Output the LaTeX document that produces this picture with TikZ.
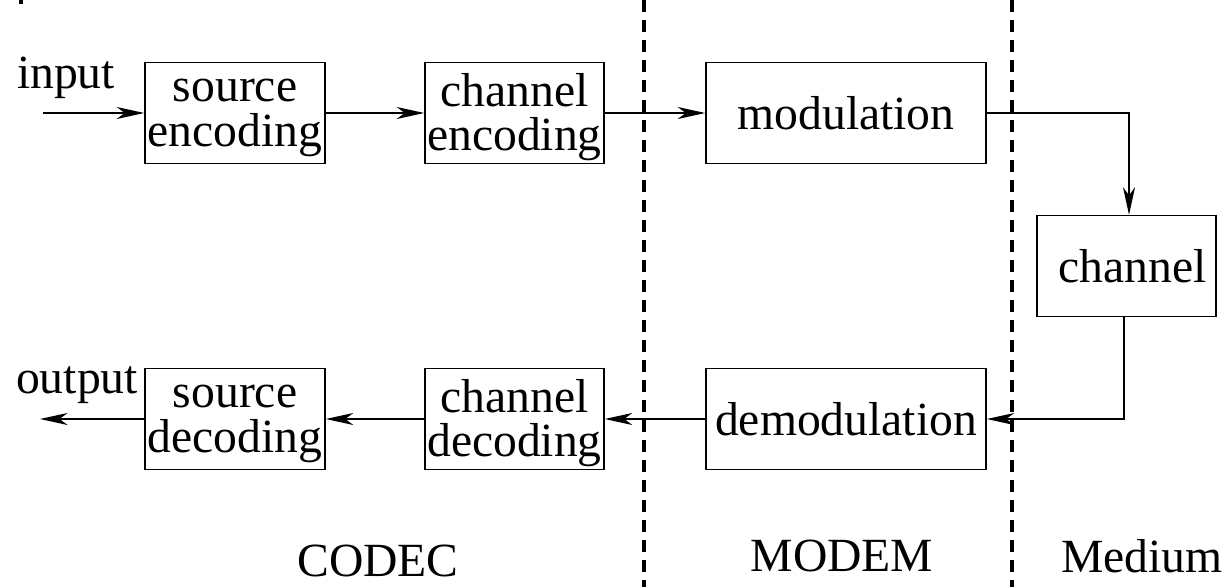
\documentclass[tikz,border=0pt]{standalone}
\usepackage{fontspec}
\setmainfont{Liberation Serif}
\usetikzlibrary{arrows.meta,positioning}
\newcommand{\srcstrut}{\rule{0pt}{0.66cm}}
\newcommand{\chstrut}{\rule{0pt}{0.82cm}}
\tikzset{
  blockbox/.style={draw,line width=0.03cm,minimum width=3.58cm,minimum height=2.02cm,
    inner sep=0pt,align=center},
  srcbox/.style={blockbox,minimum width=3.6cm,font=\fontsize{27.1pt}{25.6pt}\selectfont},
  chbox/.style={blockbox,font=\fontsize{27.1pt}{24.9pt}\selectfont},
  sigarrow/.style={line width=0.03cm,-{Stealth[length=0.55cm,width=0.24cm,inset=0.16cm]}},
  divline/.style={line width=0.08cm,dash pattern=on 0.24cm off 0.16cm},
  lbl/.style={anchor=base,inner sep=0pt}
}

\begin{document}
\begin{tikzpicture}[font=\fontsize{27.1pt}{25.6pt}\selectfont]
\useasboundingbox (0,0) rectangle (24.5,-11.74);
%---------------- dividing lines
\draw[divline] (12.88,0) -- (12.88,-11.74);
\draw[divline] (20.24,0) -- (20.24,-11.74);
\draw[line width=0.08cm] (0.42,0) -- (0.42,-0.08);
%---------------- transmit path
\node[srcbox] (srcenc) at (4.70,-2.26) {\srcstrut source\\encoding};
\node[chbox] (chenc) at (10.29,-2.26) {\chstrut channel\\encoding};
\node[blockbox,minimum width=5.6cm] (mod) at (16.92,-2.26) {modulation};
% medium
\node[blockbox] (chan) at (22.53,-5.32) {\ channel};
%---------------- receive path
\node[blockbox,minimum width=5.6cm] (demod) at (16.92,-8.38) {demodulation};
\node[chbox] (chdec) at (10.29,-8.38) {\chstrut channel\\decoding};
\node[srcbox] (srcdec) at (4.70,-8.38) {\srcstrut source\\decoding};
% free ends
\coordinate (in) at (0.86,-2.26);
\coordinate (out) at (0.80,-8.38);
\node[lbl] (inlbl) at (1.32,-1.76) {input};
\node[lbl] (outlbl) at (1.54,-7.86) {output};
% connections
\draw[sigarrow] (in) -- (srcenc);
\draw[sigarrow] (srcenc) -- (chenc);
\draw[sigarrow] (chenc) -- (mod);
\draw[sigarrow] (mod.east) -| ([xshift=0.05cm]chan.north);
\draw[sigarrow] ([xshift=-0.05cm]chan.south) |- (demod.east);
\draw[sigarrow] (demod) -- (chdec);
\draw[sigarrow] (chdec) -- (srcdec);
\draw[sigarrow] (srcdec) -- (out);
%---------------- section names
\node[lbl] (codec) at (7.56,-11.52) {CODEC};
\node[lbl] (modem) at (16.84,-11.42) {MODEM};
\node[lbl] (medium) at (22.84,-11.44) {Medium};
\end{tikzpicture}
\end{document}
